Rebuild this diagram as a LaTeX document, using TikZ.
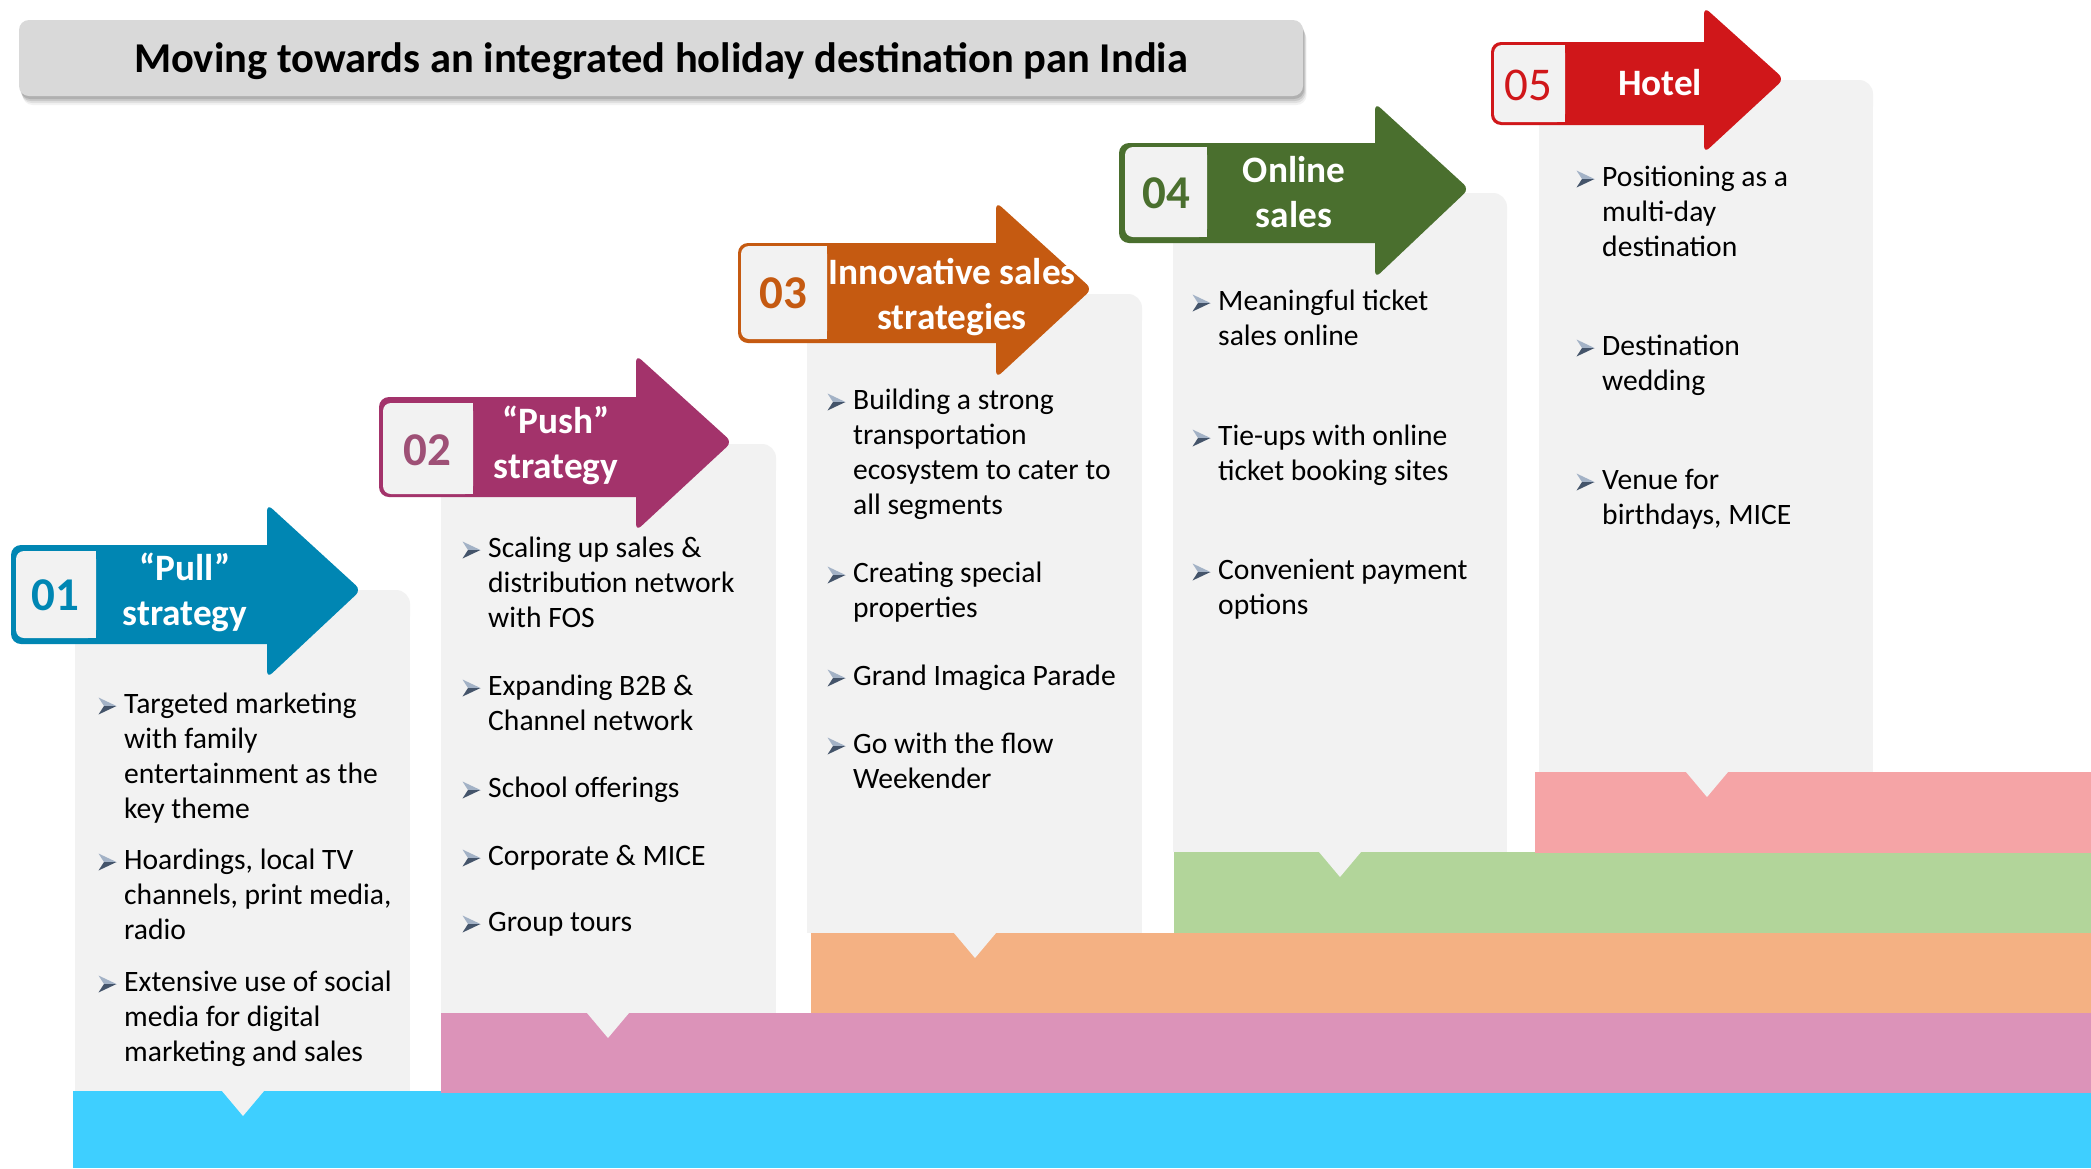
\documentclass[tikz,border=0pt]{standalone}
\usepackage{fontspec}
\setmainfont{Carlito}
\definecolor{panelc}{HTML}{F2F2F2}
\definecolor{titlec}{HTML}{D9D9D9}
\definecolor{c1}{RGB}{0,134,179}
\definecolor{c2}{RGB}{163,51,107}
\definecolor{c2n}{RGB}{158,80,118}
\definecolor{c3}{RGB}{197,90,17}
\definecolor{c4}{RGB}{74,111,46}
\definecolor{c5}{RGB}{208,23,26}
\definecolor{b1}{HTML}{3ECFFF}
\definecolor{b2}{HTML}{DC93B9}
\definecolor{b3}{HTML}{F4B183}
\definecolor{b4}{HTML}{B2D59A}
\definecolor{b5}{HTML}{F5A4A6}
\definecolor{bulA}{HTML}{A3B2C6}
\definecolor{bulB}{HTML}{44546A}
\newcommand\myitemfont{\fontsize{29.6}{35}\selectfont}
\newcommand\myheadfont{\fontsize{37.3}{45}\selectfont\bfseries}
\newcommand\mynumfont{\fontsize{47}{50}\selectfont}
\newcommand\mytitlefont{\fontsize{42.5}{50}\selectfont\bfseries}
% arrow: color, L, top, bot, hb, ht, tipx, tipy, hbot
\newcommand\myarrow[9]{%
  \fill[#1, rounded corners=10pt] (#2,#3) rectangle (#5+25,#4);
  \fill[#1, rounded corners=7pt] (#5,#6) -- (#7,#8) -- (#5,#9) -- cycle;
}
% number box: l, r, t, b
\newcommand\mynumbox[4]{%
  \fill[panelc, rounded corners=8pt] (#1,#3) rectangle (#2,#4);
  \fill[panelc] (#1+12,#3) rectangle (#2,#4);
}
% panel: l, r, t, b
\newcommand\mypanel[4]{%
  \fill[panelc, rounded corners=14pt] (#1,#3) rectangle (#2,#3+40);
  \fill[panelc] (#1,#3+20) rectangle (#2,#4);
}
% notch: cx, y
\newcommand\mynotch[2]{%
  \fill[panelc] (#1-21,#2) -- (#1,#2+25) -- (#1+21,#2) -- cycle;
}
% list item: name, x, baseline, text
\newcommand\myli[4]{%
  \node[itm] (#1) at (#2,#3-23) {\strut #4};
  \pic at (#2-16.5,#3-6) {bul};
}
\tikzset{
  itm/.style={anchor=north west, inner sep=0pt, align=left, font=\myitemfont, text=black},
  hdr/.style={anchor=base, inner sep=0pt, font=\myheadfont, text=white},
  num/.style={anchor=center, inner sep=0pt, font=\mynumfont},
  bul/.pic={
    \fill[bulA] (-9,-8.5) -- (9,0) -- (-3.5,0) -- cycle;
    \fill[bulB] (-9,8.5) -- (9,0) -- (-3.5,0) -- cycle;
  }
}
\begin{document}
\begin{tikzpicture}[x=1pt,y=-1pt]
\useasboundingbox (0,0) rectangle (2091,1168);
\fill[white] (0,0) rectangle (2091,1168);

% title
\foreach \o/\op in {9/0.05,7/0.07,5/0.10,3/0.12}
  \fill[black, opacity=\op, rounded corners=10pt] (19+\o*0.4,20+\o) rectangle (1303+\o*0.4,96+\o);
\fill[titlec, rounded corners=10pt] (19,20) rectangle (1303,96);
\node[anchor=base, inner sep=0pt, font=\mytitlefont] (title) at (661,72) {Moving towards an integrated holiday destination pan India};

% panels
\mypanel{75}{410}{590}{1091}
\mypanel{441}{776}{444}{1013}
\mypanel{807}{1142}{294}{933}
\mypanel{1173}{1507}{193}{852}
\mypanel{1539}{1873}{80}{772}

% bands
\fill[b1] (73,1091) rectangle (2091,1168);
\fill[b2] (441,1013) rectangle (2091,1093);
\fill[b3] (811,933) rectangle (2091,1013);
\fill[b4] (1174,852) rectangle (2091,933);
\fill[b5] (1535,772) rectangle (2091,852.5);

% notches
\mynotch{243}{1091}
\mynotch{608}{1013}
\mynotch{975}{933}
\mynotch{1340}{852}
\mynotch{1707}{772}

% arrows
\myarrow{c1}{11}{545}{644}{267}{504}{361}{590}{678}
\mynumbox{16}{96}{551}{638}
\node[num, text=c1, font=\mynumfont\bfseries] (n1) at (55,595) {01};
\node[hdr] (h1a) at (185,580) {“Pull”};
\node[hdr] (h1b) at (185,625) {strategy};

\myarrow{c2}{379}{397}{497}{636}{355}{732}{442}{531}
\mynumbox{383}{473}{403}{494}
\node[num, text=c2n, font=\mynumfont\bfseries] (n2) at (427,450) {02};
\node[hdr] (h2a) at (556,433) {“Push”};
\node[hdr] (h2b) at (556,478) {strategy};

\myarrow{c3}{738}{243}{343}{996}{202}{1092}{289}{378}
\mynumbox{741}{827}{246}{339}
\node[num, text=c3, font=\mynumfont\bfseries] (n3) at (783,293) {03};
\node[hdr] (h3a) at (952,284) {Innovative sales};
\node[hdr] (h3b) at (952,329) {strategies};

\myarrow{c4}{1119}{143}{243}{1375}{103}{1469}{189}{278}
\mynumbox{1125}{1207}{147}{237}
\node[num, text=c4, font=\mynumfont\bfseries] (n4) at (1166,193) {04};
\node[hdr] (h4a) at (1294,182) {Online};
\node[hdr] (h4b) at (1294,227) {sales};

\myarrow{c5}{1491}{42}{125}{1704}{7}{1784}{79}{153}
\mynumbox{1494}{1565}{45}{122}
\node[num, text=c5] (n5) at (1528,85) {05};
\node[hdr] (h5a) at (1660,95) {Hotel};

% items panel 1
\myli{i11}{124}{712}{Targeted marketing\\with family\\entertainment as the\\key theme}
\myli{i12}{124}{868}{Hoardings, local TV\\channels, print media,\\radio}
\myli{i13}{124}{990}{Extensive use of social\\media for digital\\marketing and sales}
% panel 2
\myli{i21}{488}{556}{Scaling up sales \&\\distribution network\\with FOS}
\myli{i22}{488}{694}{Expanding B2B \&\\Channel network}
\myli{i23}{488}{796}{School offerings}
\myli{i24}{488}{864}{Corporate \& MICE}
\myli{i25}{488}{930}{Group tours}
% panel 3
\myli{i31}{853}{408}{Building a strong\\transportation\\ecosystem to cater to\\all segments}
\myli{i32}{853}{581}{Creating special\\properties}
\myli{i33}{853}{684}{Grand Imagica Parade}
\myli{i34}{853}{752}{Go with the flow\\Weekender}
% panel 4
\myli{i41}{1218}{309}{Meaningful ticket\\sales online}
\myli{i42}{1218}{444}{Tie-ups with online\\ticket booking sites}
\myli{i43}{1218}{578}{Convenient payment\\options}
% panel 5
\myli{i51}{1602}{185}{Positioning as a\\multi-day\\destination}
\myli{i52}{1602}{354}{Destination\\wedding}
\myli{i53}{1602}{488}{Venue for\\birthdays, MICE}
\end{tikzpicture}
\end{document}
